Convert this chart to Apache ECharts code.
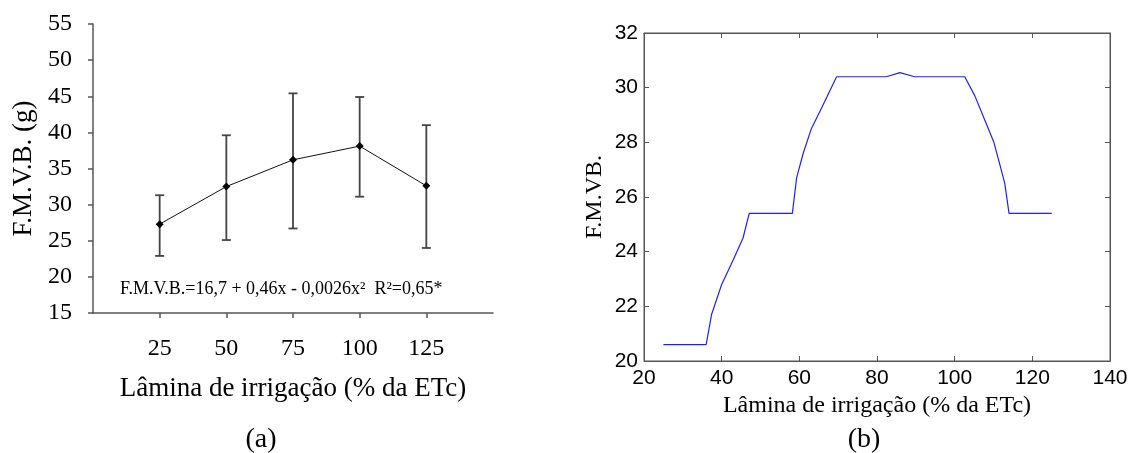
<!DOCTYPE html>
<html>
<head>
<meta charset="utf-8">
<script src="https://cdn.jsdelivr.net/npm/echarts@6/dist/echarts.min.js"></script>
<style>
  html, body { margin: 0; padding: 0; background: #fff; }
  #grafico { width: 1137px; height: 453px; }
</style>
</head>
<body>
<div id="grafico"></div>
<script>
// (a) médias e barras de erro
const laminas = [25, 50, 75, 100, 125];
const fmvbMedia = [27.3, 32.5, 36.2, 38.1, 32.6];
const fmvbSup = [31.3, 39.6, 45.4, 44.9, 41.0];
const fmvbInf = [22.9, 25.1, 26.7, 31.1, 24.0];

// (b) curva simulada
const laminaB = [25, 36, 37.4, 40, 43, 45.5, 47.1, 58.2, 59.3, 61, 63.1, 65.7, 69.6,
  82.4, 85.9, 89.7, 102.6, 105.2, 107.8, 110.1, 111.6, 112.9, 114, 125];
const fmvbB = [20.6, 20.6, 21.7, 22.8, 23.7, 24.5, 25.4, 25.4, 26.7, 27.6, 28.5, 29.25, 30.4,
  30.4, 30.55, 30.4, 30.4, 29.7, 28.8, 28.0, 27.2, 26.5, 25.4, 25.4];

const serif = "Liberation Serif";
const sans = "Liberation Sans";
const cinza = "#555";

let chart = echarts.init(document.getElementById("grafico"));

const erros = laminas.map((x, i) => [x, fmvbInf[i], fmvbSup[i]]);

chart.setOption({
  animation: false,
  grid: [
    { left: 93, top: 24, width: 400, height: 289 },
    { left: 644, top: 33, width: 466, height: 328, show: true, borderColor: cinza, borderWidth: 1 }
  ],
  xAxis: [
    {
      gridIndex: 0, type: "value", min: 0, max: 150, interval: 25,
      splitLine: { show: false },
      axisLine: { lineStyle: { color: cinza, width: 1.5 } },
      axisTick: { show: true, length: 5, customValues: laminas, lineStyle: { color: cinza, width: 1.5 } },
      axisLabel: { customValues: laminas, margin: 24, color: "#000", fontFamily: serif, fontSize: 24 },
      name: "Lâmina de irrigação (% da ETc)", nameLocation: "middle", nameGap: 62,
      nameTextStyle: { color: "#000", fontFamily: serif, fontSize: 27 }
    },
    {
      gridIndex: 1, type: "value", min: 20, max: 140, interval: 20,
      splitLine: { show: false },
      axisLine: { lineStyle: { color: cinza } },
      axisTick: { inside: true, length: 5, lineStyle: { color: cinza } },
      axisLabel: { margin: 7, color: "#000", fontFamily: sans, fontSize: 21 },
      name: "Lâmina de irrigação (% da ETc)", nameLocation: "middle", nameGap: 32,
      nameTextStyle: { color: "#000", fontFamily: serif, fontSize: 24 }
    },
    {
      gridIndex: 1, type: "value", min: 20, max: 140, interval: 20, position: "top",
      splitLine: { show: false },
      axisLine: { lineStyle: { color: cinza } },
      axisTick: { inside: true, length: 5, lineStyle: { color: cinza } },
      axisLabel: { show: false }
    }
  ],
  yAxis: [
    {
      gridIndex: 0, type: "value", min: 15, max: 55, interval: 5,
      splitLine: { show: false },
      axisLine: { show: true, lineStyle: { color: cinza, width: 1.5 } },
      axisTick: { show: true, length: 5, lineStyle: { color: cinza, width: 1.5 } },
      axisLabel: { margin: 21, color: "#000", fontFamily: serif, fontSize: 24 },
      name: "F.M.V.B. (g)", nameLocation: "middle", nameGap: 56,
      nameTextStyle: { color: "#000", fontFamily: serif, fontSize: 27 }
    },
    {
      gridIndex: 1, type: "value", min: 20, max: 32, interval: 2,
      splitLine: { show: false },
      axisLine: { show: true, lineStyle: { color: cinza } },
      axisTick: { show: true, inside: true, length: 5, lineStyle: { color: cinza } },
      axisLabel: { margin: 6, color: "#000", fontFamily: sans, fontSize: 21 },
      name: "F.M.VB.", nameLocation: "middle", nameGap: 37,
      nameTextStyle: { color: "#000", fontFamily: serif, fontSize: 24 }
    },
    {
      gridIndex: 1, type: "value", min: 20, max: 32, interval: 2, position: "right",
      splitLine: { show: false },
      axisLine: { show: true, lineStyle: { color: cinza } },
      axisTick: { show: true, inside: true, length: 5, lineStyle: { color: cinza } },
      axisLabel: { show: false }
    }
  ],
  series: [
    {
      type: "custom",
      xAxisIndex: 0, yAxisIndex: 0,
      data: erros,
      renderItem: (params, api) => {
        const baixo = api.coord([api.value(0), api.value(1)]);
        const alto = api.coord([api.value(0), api.value(2)]);
        const w = 4.5;
        const estilo = { stroke: "#444", lineWidth: 1.8 };
        return {
          type: "group",
          children: [
            { type: "line", shape: { x1: alto[0], y1: alto[1], x2: baixo[0], y2: baixo[1] }, style: estilo },
            { type: "line", shape: { x1: alto[0] - w, y1: alto[1], x2: alto[0] + w, y2: alto[1] }, style: estilo },
            { type: "line", shape: { x1: baixo[0] - w, y1: baixo[1], x2: baixo[0] + w, y2: baixo[1] }, style: estilo }
          ]
        };
      },
      z: 2
    },
    {
      type: "line",
      xAxisIndex: 0, yAxisIndex: 0,
      data: laminas.map((x, i) => [x, fmvbMedia[i]]),
      symbol: "diamond", symbolSize: 8,
      lineStyle: { color: "#111", width: 1 },
      itemStyle: { color: "#000" },
      z: 3
    },
    {
      type: "line",
      xAxisIndex: 1, yAxisIndex: 1,
      data: laminaB.map((x, i) => [x, fmvbB[i]]),
      symbol: "none",
      lineStyle: { color: "#2020ff", width: 1.2 }
    }
  ],
  graphic: [
    {
      type: "text", left: 120, top: 280,
      style: { text: "F.M.V.B.=16,7 + 0,46x - 0,0026x²  R²=0,65*", fontFamily: serif, fontSize: 18, fill: "#000" }
    },
    {
      type: "text", x: 261, y: 440,
      style: { text: "(a)", fontFamily: serif, fontSize: 28, fill: "#000", align: "center", verticalAlign: "middle" }
    },
    {
      type: "text", x: 864, y: 440,
      style: { text: "(b)", fontFamily: serif, fontSize: 28, fill: "#000", align: "center", verticalAlign: "middle" }
    }
  ]
});
</script>
</body>
</html>
